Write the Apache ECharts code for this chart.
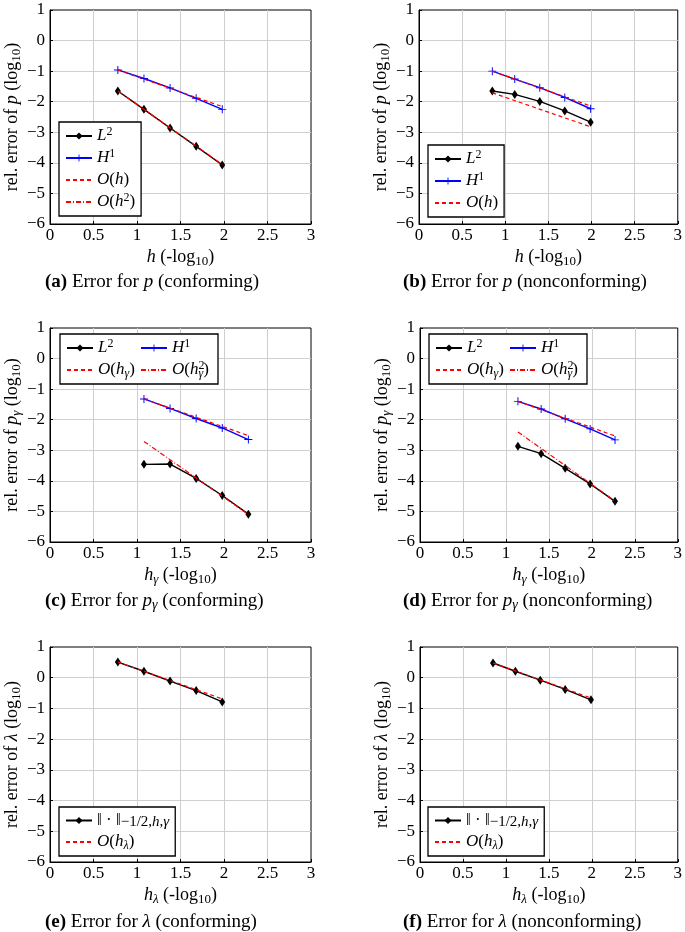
<!DOCTYPE html>
<html>
<head>
<meta charset="utf-8">
<script src="https://cdn.jsdelivr.net/npm/echarts@6/dist/echarts.min.js"></script>
<style>html,body{margin:0;padding:0;background:#fff}#c{width:685px;height:932px}</style>
</head>
<body>
<div id="c"></div>
<script>
// ---- data ----
// (a) p conforming
const xA = [0.78, 1.08, 1.38, 1.68, 1.98];
const aL2 = [-1.65, -2.25, -2.86, -3.46, -4.07];
const aH1 = [-0.96, -1.24, -1.55, -1.89, -2.25];
const aRefX = [0.78, 1.98];
const aOh = [-0.96, -2.16];
const aOh2 = [-1.65, -4.05];
// (b) p nonconforming
const xB = [0.85, 1.11, 1.40, 1.69, 1.99];
const bL2 = [-1.65, -1.76, -1.99, -2.30, -2.67];
const bH1 = [-1.00, -1.26, -1.54, -1.86, -2.23];
const bRefX = [0.85, 1.99];
const bOhH1 = [-1.00, -2.14];
const bOhL2 = [-1.71, -2.82];
// (c) p_gamma conforming
const xC = [1.08, 1.38, 1.68, 1.98, 2.28];
const cL2 = [-3.46, -3.45, -3.92, -4.48, -5.09];
const cH1 = [-1.32, -1.63, -1.96, -2.27, -2.65];
const cRefX = [1.08, 2.28];
const cOh = [-1.32, -2.52];
const cOh2 = [-2.71, -5.10];
// (d) p_gamma nonconforming
const xD = [1.14, 1.41, 1.69, 1.98, 2.27];
const dL2 = [-2.87, -3.11, -3.59, -4.10, -4.67];
const dH1 = [-1.40, -1.65, -1.97, -2.30, -2.66];
const dRefX = [1.14, 2.27];
const dOh = [-1.40, -2.53];
const dOh2 = [-2.40, -4.66];
// (e) lambda conforming
const xE = [0.78, 1.08, 1.38, 1.68, 1.98];
const eLam = [0.51, 0.21, -0.11, -0.42, -0.79];
const eRefX = [0.78, 1.98];
const eOh = [0.51, -0.69];
// (f) lambda nonconforming
const xF = [0.85, 1.11, 1.40, 1.69, 1.99];
const fLam = [0.48, 0.21, -0.08, -0.38, -0.72];
const fRefX = [0.85, 1.99];
const fOh = [0.48, -0.66];

const xTicks = [0, 0.5, 1, 1.5, 2, 2.5, 3];
const yTicks = [-6, -5, -4, -3, -2, -1, 0, 1];

// ---- styling ----
const F = '"Liberation Serif", "DejaVu Serif", serif';
const FS = 17;
function richSet(fs) {
  const s = Math.round(fs * 0.72);
  return {
    n: {fontFamily: F, fontSize: fs, lineHeight: fs + 3, color: '#000'},
    i: {fontFamily: F, fontSize: fs, fontStyle: 'italic', lineHeight: fs + 3, color: '#000'},
    b: {fontFamily: F, fontSize: fs, fontWeight: 'bold', lineHeight: fs + 3, color: '#000'},
    sub: {fontFamily: F, fontSize: s, lineHeight: s, verticalAlign: 'bottom', color: '#000'},
    subi: {fontFamily: F, fontSize: s, fontStyle: 'italic', lineHeight: s, verticalAlign: 'bottom', color: '#000'},
    sup: {fontFamily: F, fontSize: s, lineHeight: s, verticalAlign: 'top', color: '#000'},
    sup0: {fontFamily: F, fontSize: s, lineHeight: s, verticalAlign: 'top', color: '#000', width: 0},
    lsub: {fontFamily: F, fontSize: 15, lineHeight: 14, verticalAlign: 'bottom', color: '#000'},
    lsubi: {fontFamily: F, fontSize: 15, fontStyle: 'italic', lineHeight: 14, verticalAlign: 'bottom', color: '#000'}
  };
}
const RICH = richSet(FS);
const NFS = 19; // caption size
const RICHN = richSet(NFS);
const YFS = 18; // y-axis name size
const RICHY = richSet(YFS);

const grids = [
  {left: 50, top: 10, width: 261, height: 214},
  {left: 419, top: 10, width: 262, height: 214},
  {left: 50, top: 328, width: 261, height: 214},
  {left: 420, top: 328, width: 261, height: 214},
  {left: 50, top: 647, width: 261, height: 215},
  {left: 420, top: 647, width: 261, height: 215}
];
const yNames = [
  'rel. error of {i|p} (log{sub|10})',
  'rel. error of {i|p} (log{sub|10})',
  'rel. error of {i|p}{subi|γ} (log{sub|10})',
  'rel. error of {i|p}{subi|γ} (log{sub|10})',
  'rel. error of {i|λ} (log{sub|10})',
  'rel. error of {i|λ} (log{sub|10})'
];
const xNames = [
  '{i|h} (-log{sub|10})', '{i|h} (-log{sub|10})',
  '{i|h}{subi|γ} (-log{sub|10})', '{i|h}{subi|γ} (-log{sub|10})',
  '{i|h}{subi|λ} (-log{sub|10})', '{i|h}{subi|λ} (-log{sub|10})'
];
const captions = [
  {t: '{b|(a)} Error for {i|p} (conforming)', left: 45, top: 271},
  {t: '{b|(b)} Error for {i|p} (nonconforming)', left: 403, top: 271},
  {t: '{b|(c)} Error for {i|p}{subi|γ} (conforming)', left: 45, top: 590},
  {t: '{b|(d)} Error for {i|p}{subi|γ} (nonconforming)', left: 403, top: 590},
  {t: '{b|(e)} Error for {i|λ} (conforming)', left: 45, top: 911},
  {t: '{b|(f)} Error for {i|λ} (nonconforming)', left: 403, top: 911}
];

const minus = v => (v < 0 ? '\u2212' + Math.abs(v) : String(v));

const xAxes = [], yAxes = [];
grids.forEach((g, i) => {
  xAxes.push({
    type: 'value', gridIndex: i, min: xTicks[0], max: xTicks[xTicks.length - 1], interval: 0.5,
    name: xNames[i], nameLocation: 'middle', nameGap: 23,
    nameTextStyle: {fontFamily: F, fontSize: 18, color: '#000', lineHeight: 21, rich: richSet(18)},
    axisLine: {show: true, onZero: false, lineStyle: {color: '#000', width: 1}},
    axisTick: {show: true, inside: true, length: 3, lineStyle: {color: '#000'}},
    axisLabel: {fontFamily: F, fontSize: FS, color: '#000', margin: 3, formatter: v => minus(v)},
    splitLine: {show: true, showMinLine: false, showMaxLine: false, lineStyle: {color: '#cfcfcf', width: 1}}
  });
  yAxes.push({
    type: 'value', gridIndex: i, min: yTicks[0], max: yTicks[yTicks.length - 1], interval: 1,
    name: yNames[i], nameLocation: 'middle', nameGap: 26, nameRotate: 90,
    nameTextStyle: {fontFamily: F, fontSize: YFS, color: '#000', lineHeight: YFS + 3, rich: RICHY},
    axisLine: {show: true, onZero: false, lineStyle: {color: '#000', width: 1}},
    axisTick: {show: true, inside: true, length: 3, lineStyle: {color: '#000'}},
    axisLabel: {fontFamily: F, fontSize: FS, color: '#000', margin: 5, formatter: v => minus(v)},
    splitLine: {show: true, showMinLine: false, showMaxLine: false, lineStyle: {color: '#cfcfcf', width: 1}}
  });
});

const PLUS = 'path://M4.4,0 L5.6,0 L5.6,4.4 L10,4.4 L10,5.6 L5.6,5.6 L5.6,10 L4.4,10 L4.4,5.6 L0,5.6 L0,4.4 L4.4,4.4 Z';
const STY = {
  L2: {symbol: 'diamond', symbolSize: [6, 9], itemStyle: {color: '#000'}, lineStyle: {color: '#000', width: 1.4}, z: 3},
  H1: {symbol: PLUS, symbolSize: 8, itemStyle: {color: '#0000ff'}, lineStyle: {color: '#0000ff', width: 1.4}, z: 3},
  Oh: {symbol: 'none', itemStyle: {color: '#ff0000'}, lineStyle: {color: '#ff0000', width: 1.2, type: [4, 3]}, z: 4},
  Oh2: {symbol: 'none', itemStyle: {color: '#ff0000'}, lineStyle: {color: '#ff0000', width: 1.2, type: [5, 2, 1, 2]}, z: 4},
  Lam: {symbol: 'diamond', symbolSize: [6, 9], itemStyle: {color: '#000'}, lineStyle: {color: '#000', width: 1.4}, z: 3}
};
const REFKEYS = ['Oh', 'Oh2', 'Ohg', 'Ohg2', 'Ohl'];
const LABEL = {
  L2: '{i|L}{sup|2}', H1: '{i|H}{sup|1}', Oh: '{i|O}({i|h})', Oh2: '{i|O}({i|h}{sup|2})',
  Ohg: '{i|O}({i|h}{subi|γ})', Ohg2: '{i|O}({i|h}{sup0|2}{subi|γ})',
  Lam: '‖ · ‖{lsub|−1/2,}{lsubi|h}{lsub|,}{lsubi|γ}', Ohl: '{i|O}({i|h}{subi|λ})'
};
const pairs = (xs, ys) => xs.map((x, k) => [x, ys[k]]);
const series = [];
function add(gi, key, style, xs, ys) {
  series.push(Object.assign({
    type: 'line', name: gi + ':' + key, xAxisIndex: gi, yAxisIndex: gi,
    data: pairs(xs, ys), showSymbol: true, animation: false, silent: true
  }, JSON.parse(JSON.stringify(STY[style])), {symbol: STY[style].symbol}));
}
add(0, 'L2', 'L2', xA, aL2); add(0, 'H1', 'H1', xA, aH1);
add(0, 'Oh', 'Oh', aRefX, aOh); add(0, 'Oh2', 'Oh2', aRefX, aOh2);
add(1, 'L2', 'L2', xB, bL2); add(1, 'H1', 'H1', xB, bH1);
add(1, 'Oh', 'Oh', bRefX, bOhH1); add(1, 'Oh', 'Oh', bRefX, bOhL2);
add(2, 'L2', 'L2', xC, cL2); add(2, 'H1', 'H1', xC, cH1);
add(2, 'Ohg', 'Oh', cRefX, cOh); add(2, 'Ohg2', 'Oh2', cRefX, cOh2);
add(3, 'L2', 'L2', xD, dL2); add(3, 'H1', 'H1', xD, dH1);
add(3, 'Ohg', 'Oh', dRefX, dOh); add(3, 'Ohg2', 'Oh2', dRefX, dOh2);
add(4, 'Lam', 'Lam', xE, eLam); add(4, 'Ohl', 'Oh', eRefX, eOh);
add(5, 'Lam', 'Lam', xF, fLam); add(5, 'Ohl', 'Oh', fRefX, fOh);

const legendBase = {
  selectedMode: false, backgroundColor: '#fff', borderColor: '#000', borderWidth: 1.3,
  padding: [4, 6, 4, 6], itemWidth: 26, itemHeight: 9, itemGap: 2,
  formatter: name => LABEL[name.split(':')[1]],
  textStyle: {fontFamily: F, fontSize: FS, color: '#000', lineHeight: 19, rich: RICH}
};
function legItem(name) {
  const key = name.split(':')[1];
  if (REFKEYS.indexOf(key) >= 0) {
    return {name: name, itemStyle: {color: 'rgba(0,0,0,0)', borderColor: 'rgba(0,0,0,0)', borderWidth: 0, opacity: 0}};
  }
  return {name: name};
}
function leg(o) {
  const r = Object.assign({}, legendBase, o);
  r.data = o.data.map(legItem);
  if (o.textWidth) { r.textStyle = Object.assign({}, legendBase.textStyle, {width: o.textWidth}); delete r.textWidth; }
  return r;
}
const legends = [
  leg({left: 59, top: 122, orient: 'vertical', data: ['0:L2', '0:H1', '0:Oh', '0:Oh2']}),
  leg({left: 428, top: 145, orient: 'vertical', data: ['1:L2', '1:H1', '1:Oh']}),
  leg({left: 60, top: 334, orient: 'horizontal', width: 150, textWidth: 40, data: ['2:L2', '2:H1', '2:Ohg', '2:Ohg2']}),
  leg({left: 429, top: 334, orient: 'horizontal', width: 150, textWidth: 40, data: ['3:L2', '3:H1', '3:Ohg', '3:Ohg2']}),
  leg({left: 59, top: 807, orient: 'vertical', data: ['4:Lam', '4:Ohl']}),
  leg({left: 428, top: 807, orient: 'vertical', data: ['5:Lam', '5:Ohl']})
];

const titles = captions.map(c => ({
  text: c.t, left: c.left, top: c.top, padding: 0,
  textStyle: {fontFamily: F, fontSize: NFS, fontWeight: 'normal', color: '#000', lineHeight: NFS + 3, rich: RICHN}
}));

const chart = echarts.init(document.getElementById('c'), null, {renderer: 'canvas'});
chart.setOption({
  animation: false,
  backgroundColor: '#fff',
  title: titles,
  grid: grids.map(g => Object.assign({show: true, borderColor: '#000', borderWidth: 1, backgroundColor: 'transparent'}, g)),
  xAxis: xAxes,
  yAxis: yAxes,
  legend: legends,
  series: series
});
</script>
</body>
</html>
